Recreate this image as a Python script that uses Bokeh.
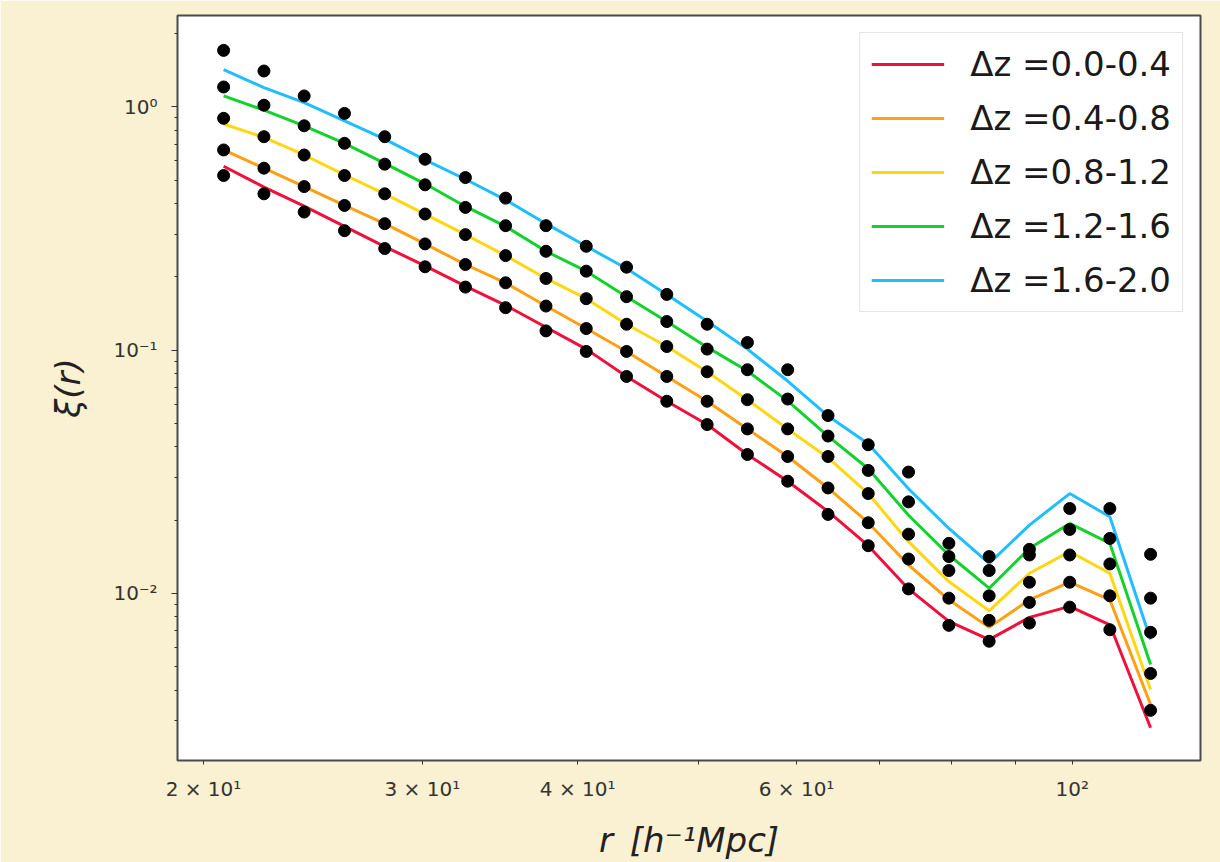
from bokeh.plotting import figure
from bokeh.models import FixedTicker, Legend, LegendItem, Range1d
from bokeh.embed import file_html
from bokeh.resources import INLINE

# separation r [h^-1 Mpc] (bin centres)
r = [20.76, 22.37, 24.10, 25.97, 27.98, 30.15, 32.49, 35.00, 37.72, 40.64, 43.79, 47.18,
     50.84, 54.78, 59.02, 63.60, 68.52, 73.83, 79.56, 85.72, 92.36, 99.52, 107.2, 115.6]

labels = ["Δz =0.0-0.4", "Δz =0.4-0.8", "Δz =0.8-1.2", "Δz =1.2-1.6", "Δz =1.6-2.0"]
colors = ["#f0103c", "#ff9f14", "#ffd710", "#14d22c", "#1ebeff"]

# model curves
model_00_04 = [0.570, 0.468, 0.391, 0.3225, 0.2663, 0.2220, 0.1832, 0.1527, 0.1241, 0.1009, 0.0779, 0.0616,
               0.0494, 0.0372, 0.0289, 0.0217, 0.01569, 0.01042, 0.00766, 0.00645, 0.00796, 0.00883, 0.00742, 0.00280]
model_04_08 = [0.665, 0.5596, 0.470, 0.3933, 0.3309, 0.2732, 0.2248, 0.1891, 0.1517, 0.1226, 0.0987, 0.0779,
               0.0616, 0.0474, 0.0365, 0.0271, 0.0195, 0.01307, 0.00940, 0.00724, 0.00940, 0.01110, 0.00940, 0.00349]
model_08_12 = [0.850, 0.749, 0.634, 0.525, 0.439, 0.3625, 0.2983, 0.2446, 0.1970, 0.1627, 0.1277, 0.1034,
               0.0814, 0.0625, 0.0474, 0.0361, 0.0257, 0.01630, 0.01117, 0.00847, 0.01209, 0.01483, 0.01209, 0.00402]
model_12_16 = [1.109, 0.969, 0.836, 0.708, 0.586, 0.4826, 0.3895, 0.3225, 0.2548, 0.2111, 0.1658, 0.1310,
               0.1028, 0.0820, 0.0618, 0.0443, 0.0325, 0.02094, 0.01437, 0.01049, 0.01530, 0.01937, 0.01604, 0.00509]
model_16_20 = [1.423, 1.200, 1.040, 0.876, 0.737, 0.605, 0.504, 0.4148, 0.3309, 0.2671, 0.2164, 0.1694,
               0.1313, 0.1009, 0.0746, 0.0536, 0.0412, 0.0269, 0.01847, 0.01328, 0.01906, 0.0257, 0.02063, 0.00645]

# measured points
data_00_04 = [0.522, 0.439, 0.3694, 0.3097, 0.2615, 0.2200, 0.1815, 0.1494, 0.1199, 0.0987, 0.0779, 0.0616,
              0.0494, 0.0372, 0.0289, 0.0211, 0.01569, 0.01042, 0.00738, 0.00635, 0.00754, 0.00877, 0.00708, 0.00330]
data_04_08 = [0.665, 0.5596, 0.470, 0.3933, 0.3309, 0.2732, 0.2248, 0.1891, 0.1517, 0.1226, 0.0987, 0.0779,
              0.0616, 0.0474, 0.0365, 0.0271, 0.0195, 0.01383, 0.00955, 0.00774, 0.00917, 0.01110, 0.00976, 0.00468]
data_08_12 = [0.897, 0.754, 0.634, 0.522, 0.439, 0.3625, 0.2983, 0.2446, 0.1970, 0.1627, 0.1277, 0.1034,
              0.0814, 0.0625, 0.0474, 0.0365, 0.0257, 0.01750, 0.01240, 0.00976, 0.01110, 0.01437, 0.01320, 0.00691]
data_12_16 = [1.207, 1.016, 0.836, 0.708, 0.581, 0.478, 0.386, 0.3247, 0.2548, 0.2111, 0.1658, 0.1310,
              0.1009, 0.0830, 0.0629, 0.0443, 0.0320, 0.02376, 0.01415, 0.01240, 0.01437, 0.01830, 0.01681, 0.00955]
data_16_20 = [1.707, 1.404, 1.109, 0.940, 0.754, 0.609, 0.512, 0.4215, 0.3247, 0.2671, 0.2192, 0.1694,
              0.1277, 0.1074, 0.0830, 0.0538, 0.0408, 0.0315, 0.01604, 0.01415, 0.01516, 0.02231, 0.02231, 0.01446]

models = [model_00_04, model_04_08, model_08_12, model_12_16, model_16_20]
datas = [data_00_04, data_04_08, data_08_12, data_12_16, data_16_20]

x_tick_labels = {20: "2 × 10¹", 30: "3 × 10¹", 40: "4 × 10¹", 50: "", 60: "6 × 10¹",
                 70: "", 80: "", 90: "", 100: "10²"}
y_tick_labels = {0.01: "10⁻²", 0.1: "10⁻¹", 1: "10⁰"}

BG = "#faf0d2"
FONT = "DejaVu Sans"

p = figure(width=1220, height=862, x_axis_type="log", y_axis_type="log",
           x_range=Range1d(19.06, 126.8), y_range=Range1d(0.002053, 2.375),
           output_backend="svg", toolbar_location=None,
           min_border_left=177, min_border_right=20, min_border_top=15, min_border_bottom=99)
p.background_fill_color = "white"
p.border_fill_color = BG
p.outline_line_color = "#4a4a4a"
p.outline_line_width = 2
p.xgrid.visible = False
p.ygrid.visible = False

items = []
for lab, col, m in zip(labels, colors, models):
    rl = p.line(r, m, line_color=col, line_width=3)
    items.append(LegendItem(label=lab, renderers=[rl]))
for d in datas:
    p.scatter(r, d, size=12, fill_color="black", line_color="black")

# x axis
p.xaxis.ticker = FixedTicker(ticks=list(x_tick_labels.keys()), minor_ticks=[])
p.xaxis.major_label_overrides = x_tick_labels
p.xaxis.major_tick_out = 4
p.xaxis.major_tick_in = 0
p.xaxis.major_label_standoff = 12
p.xaxis.axis_label = "r\u2002[h⁻¹Mpc]"
p.xaxis.axis_label_standoff = 16

# y axis
minor_y = [k * 10.0 ** e for e in (-3, -2, -1, 0) for k in range(2, 10)]
p.yaxis.ticker = FixedTicker(ticks=list(y_tick_labels.keys()), minor_ticks=minor_y)
p.yaxis.major_label_overrides = y_tick_labels
p.yaxis.major_tick_out = 6
p.yaxis.major_tick_in = 0
p.yaxis.minor_tick_out = 3
p.yaxis.minor_tick_in = 0
p.yaxis.major_label_standoff = 14
p.yaxis.axis_label = "ξ(r)"
p.yaxis.axis_label_standoff = 22

for ax in (p.xaxis, p.yaxis):
    ax.axis_line_color = "#4a4a4a"
    ax.major_tick_line_color = "#333333"
    ax.minor_tick_line_color = "#333333"
    ax.major_label_text_font = FONT
    ax.major_label_text_font_size = "20px"
    ax.major_label_text_color = "#333333"
    ax.axis_label_text_font = FONT
    ax.axis_label_text_font_size = "34px"
    ax.axis_label_text_font_style = "italic"
    ax.axis_label_text_color = "#222222"

legend = Legend(items=items, location="top_right")
legend.margin = 17
legend.padding = 11
legend.spacing = 14
legend.glyph_width = 73
legend.glyph_height = 36
legend.label_height = 36
legend.label_standoff = 26
legend.label_text_font = FONT
legend.label_text_font_size = "34px"
legend.label_text_color = "#1a1a1a"
legend.border_line_color = "#cccccc"
legend.border_line_width = 1.5
legend.background_fill_color = "white"
legend.background_fill_alpha = 0.9
p.add_layout(legend)

open("out.html", "w").write(file_html(p, INLINE))
